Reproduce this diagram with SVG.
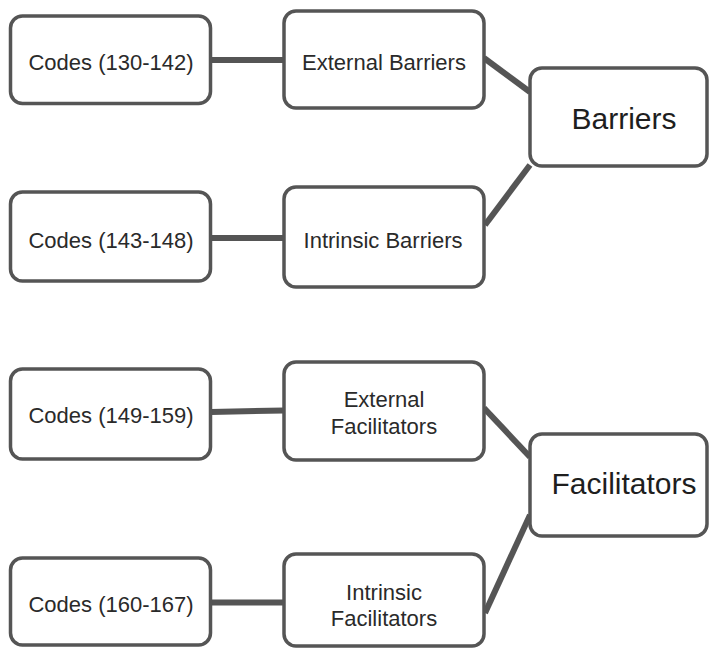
<svg xmlns="http://www.w3.org/2000/svg" width="709" height="648" viewBox="0 0 709 648">
  <style>
    .box { fill: #ffffff; stroke: #555555; stroke-width: 3.5; }
    .edge { fill: none; stroke: #555555; stroke-width: 6; stroke-linecap: butt; }
    .lbl { font-family: "Liberation Sans", Arial, sans-serif; font-size: 22px; fill: #2a2a2a; text-anchor: middle; }
    .big { font-family: "Liberation Sans", Arial, sans-serif; font-size: 30px; fill: #1e1e1e; text-anchor: middle; }
  </style>
  <rect width="709" height="648" fill="#ffffff"/>

  <!-- connectors -->
  <g id="connectors">
    <line class="edge" x1="211" y1="60" x2="284" y2="60"/>
    <line class="edge" x1="211" y1="238" x2="284" y2="238"/>
    <line class="edge" x1="211" y1="412" x2="284" y2="410.5"/>
    <line class="edge" x1="211" y1="602.5" x2="284" y2="602.5"/>
    <line class="edge" x1="484" y1="58" x2="530" y2="92"/>
    <line class="edge" x1="530" y1="165" x2="485" y2="225"/>
    <line class="edge" x1="484" y1="408" x2="530" y2="457"/>
    <line class="edge" x1="530" y1="515" x2="485" y2="613"/>
  </g>

  <!-- barriers branch -->
  <g id="codes-130-142">
    <rect class="box" x="10.5" y="16" width="200" height="87.5" rx="12"/>
    <text class="lbl" x="111" y="70">Codes (130-142)</text>
  </g>
  <g id="external-barriers">
    <rect class="box" x="284" y="11" width="200" height="97" rx="12"/>
    <text class="lbl" x="384" y="70">External Barriers</text>
  </g>
  <g id="codes-143-148">
    <rect class="box" x="10.5" y="192" width="200" height="89" rx="12"/>
    <text class="lbl" x="111" y="248">Codes (143-148)</text>
  </g>
  <g id="intrinsic-barriers">
    <rect class="box" x="284" y="187" width="200" height="100" rx="12"/>
    <text class="lbl" x="383" y="248">Intrinsic Barriers</text>
  </g>
  <g id="barriers">
    <rect class="box" x="530" y="68" width="177" height="98" rx="12"/>
    <text class="big" x="624" y="129">Barriers</text>
  </g>

  <!-- facilitators branch -->
  <g id="codes-149-159">
    <rect class="box" x="10.5" y="369" width="200" height="90" rx="12"/>
    <text class="lbl" x="111" y="423">Codes (149-159)</text>
  </g>
  <g id="external-facilitators">
    <rect class="box" x="284" y="362" width="200" height="98" rx="12"/>
    <text class="lbl" x="384" y="407">External</text>
    <text class="lbl" x="384" y="434">Facilitators</text>
  </g>
  <g id="codes-160-167">
    <rect class="box" x="10.5" y="558" width="200" height="87" rx="12"/>
    <text class="lbl" x="111" y="612">Codes (160-167)</text>
  </g>
  <g id="intrinsic-facilitators">
    <rect class="box" x="284" y="554" width="200" height="92" rx="12"/>
    <text class="lbl" x="384" y="600">Intrinsic</text>
    <text class="lbl" x="384" y="626">Facilitators</text>
  </g>
  <g id="facilitators">
    <rect class="box" x="530" y="434" width="177" height="102" rx="12"/>
    <text class="big" x="624" y="494">Facilitators</text>
  </g>
</svg>
